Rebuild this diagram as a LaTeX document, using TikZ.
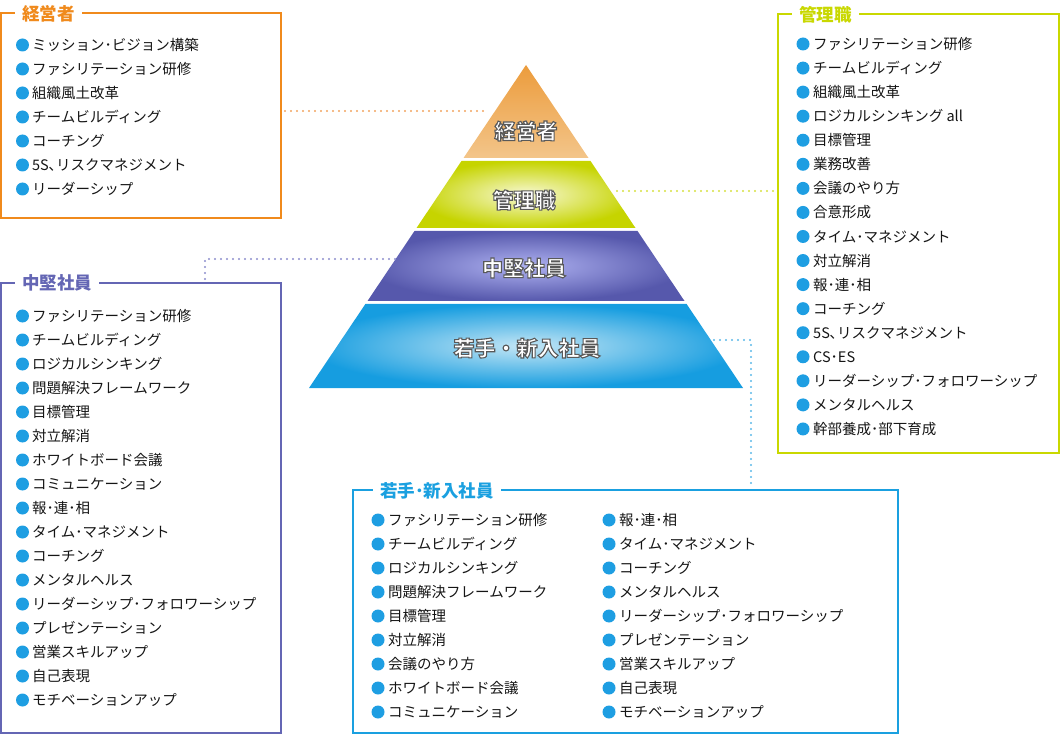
\documentclass[tikz,border=0pt]{standalone}
\usepackage{fontspec}
\setmainfont{Noto Sans CJK JP}
\usetikzlibrary{calc}
\definecolor{cOr}{HTML}{F08A1C}
\definecolor{cYg}{HTML}{C9D800}
\definecolor{cPu}{HTML}{6466B4}
\definecolor{cBl}{HTML}{1AA0E0}
\definecolor{cBul}{HTML}{1E9EE2}
\definecolor{cTxt}{HTML}{151515}
\definecolor{dOr}{HTML}{F2A460}
\definecolor{dYg}{HTML}{D6E040}
\definecolor{dPu}{HTML}{8C8ECC}
\definecolor{dBl}{HTML}{5CB8E8}
\definecolor{gOrA}{HTML}{EC9C3C}
\definecolor{gOrB}{HTML}{F3C58A}
\definecolor{gYgA}{HTML}{F8F9D6}
\definecolor{gYgB}{HTML}{C6D400}
\definecolor{gPuA}{HTML}{AEB1F0}
\definecolor{gPuB}{HTML}{5658AC}
\definecolor{gBlA}{HTML}{C4E6F5}
\definecolor{gBlB}{HTML}{169DE0}
\newcommand{\outl}[1]{\special{pdf:literal q 0.35 0.35 0.35 RG 1.1 w 2 Tr}#1\special{pdf:literal Q}}
\begin{document}
\begin{tikzpicture}[x=1pt,y=-1pt,
  frame/.style={draw=#1, line width=1.1pt, anchor=north west, inner sep=0pt, outer sep=0pt},
  ttl/.style={fill=white, text=#1, font=\fontsize{17.5}{20}\selectfont\bfseries, anchor=west, inner xsep=7pt, inner ysep=1pt, outer sep=0pt},
  bul/.style={circle, fill=cBul, minimum size=13pt, inner sep=0pt, outer sep=0pt},
  itm/.style={anchor=west, inner sep=0pt, text=cTxt, font=\fontsize{14.5}{16}\selectfont},
  lvl/.style={text=white, font=\fontsize{21}{23}\selectfont\bfseries, inner sep=0pt},
  dots/.style={draw=#1, line width=2.2pt, line cap=round, dash pattern=on 0pt off 6pt}
]
\useasboundingbox (0,0) rectangle (1060,735);

% ---------- pyramid ----------
\shade[top color=gOrA, bottom color=gOrB] (526,65) -- (588.5,158) -- (463.5,158) -- cycle;
\shade[inner color=gYgA, outer color=gYgB] (461.5,161) -- (590.5,161) -- (635.5,228) -- (416.5,228) -- cycle;
\shade[inner color=gPuA, outer color=gPuB] (414.5,231) -- (637.5,231) -- (684.5,301) -- (367.5,301) -- cycle;
\shade[inner color=gBlA, outer color=gBlB] (365.4,304) -- (686.6,304) -- (743,388) -- (309,388) -- cycle;

\node[lvl] (L1) at (526,131) {\outl{経営者}};
\node[lvl] (L2) at (524,200) {\outl{管理職}};
\node[lvl] (L3) at (524,268) {\outl{中堅社員}};
\node[lvl] (L4) at (527,348) {\outl{若手・新入社員}};

% ---------- boxes ----------
\node[frame=cOr, minimum width=280pt, minimum height=205pt] (kbox) at (1,13) {};
\node[frame=cYg, minimum width=281pt, minimum height=439pt] (mbox) at (778,14) {};
\node[frame=cPu, minimum width=280pt, minimum height=450pt] (cbox) at (1,283) {};
\node[frame=cBl, minimum width=545pt, minimum height=243pt] (wbox) at (353,490) {};

\node[ttl=cOr] (kt) at (15,14) {経営者};
\node[ttl=cYg] (mt) at (792,15) {管理職};
\node[ttl=cPu] (ct) at (15,283) {中堅社員};
\node[ttl=cBl] (wt) at (373,491) {若手･新入社員};

% ---------- connectors ----------
\coordinate (o1) at (487,111);
\draw[dots=dOr] ($(kbox.east |- o1)+(4,0)$) -- (o1);
\coordinate (y1) at (617,191);
\draw[dots=dYg] (y1) -- ($(mbox.west |- y1)+(-3,0)$);
\coordinate (p1) at (395,259);
\coordinate (p2) at (205,259);
\draw[dots=dPu] (p1) -- (p2) -- ($(cbox.north -| p2)+(0,-3)$);
\coordinate (b1) at (714,340);
\coordinate (b2) at (751,340);
\draw[dots=dBl] (b1) -- (b2) -- ($(wbox.north -| b2)+(0,-4)$);

% ---------- lists ----------
\foreach \t [count=\i] in {ミッション･ビジョン構築,ファシリテーション研修,組織風土改革,チームビルディング,コーチング,5S､リスクマネジメント,リーダーシップ}{
  \node[bul] (kb\i) at (22.5,45+24*\i-24) {};
  \node[itm] (ki\i) at (32,45+24*\i-24) {\t};
}
\foreach \t [count=\i] in {ファシリテーション研修,チームビルディング,組織風土改革,ロジカルシンキング all,目標管理,業務改善,会議のやり方,合意形成,タイム･マネジメント,対立解消,報･連･相,コーチング,5S､リスクマネジメント,CS･ES,リーダーシップ･フォロワーシップ,メンタルヘルス,幹部養成･部下育成}{
  \node[bul] (mb\i) at (803,44+24.06*\i-24.06) {};
  \node[itm] (mi\i) at (813,44+24.06*\i-24.06) {\t};
}
\foreach \t [count=\i] in {ファシリテーション研修,チームビルディング,ロジカルシンキング,問題解決フレームワーク,目標管理,対立解消,ホワイトボード会議,コミュニケーション,報･連･相,タイム･マネジメント,コーチング,メンタルヘルス,リーダーシップ･フォロワーシップ,プレゼンテーション,営業スキルアップ,自己表現,モチベーションアップ}{
  \node[bul] (cb\i) at (22.5,316+24*\i-24) {};
  \node[itm] (ci\i) at (32,316+24*\i-24) {\t};
}
\foreach \t [count=\i] in {ファシリテーション研修,チームビルディング,ロジカルシンキング,問題解決フレームワーク,目標管理,対立解消,会議のやり方,ホワイトボード会議,コミュニケーション}{
  \node[bul] (wlb\i) at (378,520+24*\i-24) {};
  \node[itm] (wli\i) at (388,520+24*\i-24) {\t};
}
\foreach \t [count=\i] in {報･連･相,タイム･マネジメント,コーチング,メンタルヘルス,リーダーシップ･フォロワーシップ,プレゼンテーション,営業スキルアップ,自己表現,モチベーションアップ}{
  \node[bul] (wrb\i) at (609,520+24*\i-24) {};
  \node[itm] (wri\i) at (619,520+24*\i-24) {\t};
}
\end{tikzpicture}
\end{document}
